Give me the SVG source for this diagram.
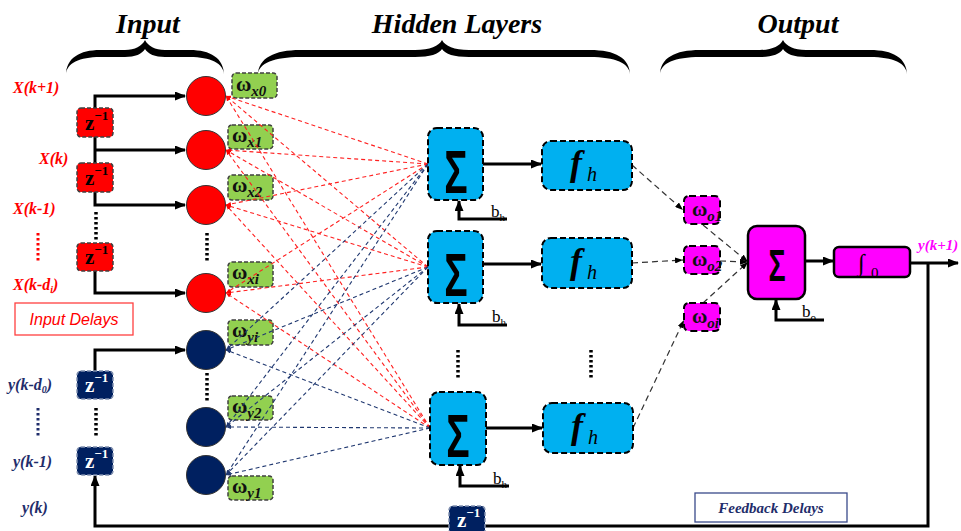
<svg xmlns="http://www.w3.org/2000/svg" width="961" height="531" viewBox="0 0 961 531">
<defs>
<marker id="ah" markerWidth="11" markerHeight="9" refX="10" refY="4.5" orient="auto" markerUnits="userSpaceOnUse"><path d="M0,0 L11,4.5 L0,9 Z" fill="#000"/></marker>
<marker id="ahs" markerWidth="8" markerHeight="6" refX="8" refY="3" orient="auto" markerUnits="userSpaceOnUse"><path d="M0,0 L8,3 L0,6 Z" fill="#000"/></marker>
<marker id="ahr" markerWidth="5" markerHeight="4" refX="5" refY="2" orient="auto" markerUnits="userSpaceOnUse"><path d="M0,0 L5,2 L0,4 Z" fill="#ff0000"/></marker>
<marker id="ahn" markerWidth="5" markerHeight="4" refX="5" refY="2" orient="auto" markerUnits="userSpaceOnUse"><path d="M0,0 L5,2 L0,4 Z" fill="#203870"/></marker>
</defs>
<style>
.title{font-family:"Liberation Serif",serif;font-weight:bold;font-style:italic;font-size:28px;text-anchor:middle;fill:#000}
.brace{fill:#000}
.conn{stroke:#000;stroke-width:3;fill:none}
.dots{stroke:#000;stroke-width:3.5;stroke-dasharray:2.5,2.5;fill:none}
.rl{stroke:#ff2020;stroke-width:1.1;stroke-dasharray:4,3;fill:none}
.nl{stroke:#203870;stroke-width:1.1;stroke-dasharray:4,3;fill:none}
.ol{stroke:#333;stroke-width:1.2;stroke-dasharray:6,4;fill:none}
.gw{fill:#92d050;stroke:#404040;stroke-width:1.5;stroke-dasharray:4,2}
.wt{font-family:"Liberation Serif",serif;font-weight:bold;font-size:21px;fill:#111}
.ws{font-size:15px;font-style:italic}
.rz{fill:#ff0000;stroke:#404040;stroke-width:1.5;stroke-dasharray:4,2}
.nz{fill:#002060;stroke:#8090b0;stroke-width:1.5;stroke-dasharray:4,2}
.zt{font-family:"Liberation Serif",serif;font-weight:bold;font-size:21px}
.zs{font-size:13px}
.rc{fill:#ff0000;stroke:#333;stroke-width:1}
.nc{fill:#002060;stroke:#333;stroke-width:1}
.hb{fill:#00b0f0;stroke:#000;stroke-width:2;stroke-dasharray:6,3}
.sig{font-family:"Liberation Sans",sans-serif;font-weight:bold;text-anchor:middle;fill:#000}
.ft{font-family:"Liberation Serif",serif;font-style:italic;fill:#000}
.bt{font-family:"Liberation Serif",serif;font-size:17px;fill:#000}
.mw{fill:#ff00ff;stroke:#000;stroke-width:2;stroke-dasharray:7,4}
.ms{fill:#ff00ff;stroke:#000;stroke-width:2.5}
.lx{font-family:"Liberation Serif",serif;font-weight:bold;font-style:italic;font-size:16px;fill:#ff0000}
.ly{font-family:"Liberation Serif",serif;font-weight:bold;font-style:italic;font-size:16px;fill:#1f2d6b}
</style>
<rect width="961" height="531" fill="#fff"/>

<g id="titles">
<text class="title" x="148" y="33">Input</text>
<text class="title" x="457" y="33">Hidden Layers</text>
<text class="title" x="798" y="33">Output</text>
<path class="brace" d="M66,75 C66,58 80,50 100,50 L125,50 C135,50 142,46 145,40 C148,46 155,50 165,50 L190,50 C210,50 224,58 224,75 C224,63 210,57 190,57 L165,57 C155,57 148,54 145,49 C142,54 135,57 125,57 L100,57 C80,57 66,63 66,75 Z"/>
<path class="brace" d="M258,75 C258,58 275,50 300,50 L415,50 C430,50 439,46 442,40 C445,46 454,50 469,50 L590,50 C615,50 630,58 630,75 C630,63 615,57 590,57 L469,57 C454,57 445,54 442,49 C439,54 430,57 415,57 L300,57 C275,57 258,63 258,75 Z"/>
<path class="brace" d="M660,75 C660,58 675,50 700,50 L760,50 C772,50 780,46 783,40 C786,46 794,50 806,50 L870,50 C893,50 907,58 907,75 C907,63 893,57 870,57 L806,57 C794,57 786,54 783,49 C780,54 772,57 760,57 L700,57 C675,57 660,63 660,75 Z"/>
</g>

<g id="labels">
<text class="lx" x="13" y="93">X(k+1)</text>
<text class="lx" x="39" y="164">X(k)</text>
<text class="lx" x="13" y="214">X(k-1)</text>
<path d="M38,233 V261" stroke="#ff0000" stroke-width="3" stroke-dasharray="2.5,2.5"/>
<text class="lx" x="13" y="290">X(k-d<tspan font-size="10" dy="3">i</tspan><tspan dy="-3">)</tspan></text>
<text class="ly" x="8" y="390">y(k-d<tspan font-size="10" dy="3">0</tspan><tspan dy="-3">)</tspan></text>
<path d="M38,408 V438" stroke="#1f2d6b" stroke-width="3" stroke-dasharray="2.5,2.5"/>
<text class="ly" x="13" y="467">y(k-1)</text>
<text class="ly" x="22" y="513">y(k)</text>
<text x="918" y="250" font-family="Liberation Serif,serif" font-weight="bold" font-style="italic" font-size="15" fill="#ff00ff">y(k+1)</text>
</g>

<g id="input-delays-label">
<rect x="15" y="303" width="118" height="32" fill="#fff" stroke="#ff4040" stroke-width="1.3"/>
<text x="74" y="325" font-family="Liberation Sans,sans-serif" font-style="italic" font-size="16" fill="#ff0000" text-anchor="middle">Input Delays</text>
</g>
<g id="feedback-delays-label">
<rect x="695" y="493" width="152" height="29" fill="#fff" stroke="#3a4a8a" stroke-width="1.3"/>
<text x="771" y="513" font-family="Liberation Serif,serif" font-weight="bold" font-style="italic" font-size="15" fill="#1f2d6b" text-anchor="middle">Feedback Delays</text>
</g>

<g id="weights-in">
<g id="wx0"><rect class="gw" x="232" y="73" width="45" height="25" rx="4"/><text class="wt" x="236" y="91">ω<tspan class="ws" dy="5">x0</tspan></text></g>
<g id="wx1"><rect class="gw" x="228" y="125" width="45" height="24" rx="4"/><text class="wt" x="232" y="142">ω<tspan class="ws" dy="5">x1</tspan></text></g>
<g id="wx2"><rect class="gw" x="228" y="175" width="45" height="25" rx="4"/><text class="wt" x="232" y="192">ω<tspan class="ws" dy="5">x2</tspan></text></g>
<g id="wxi"><rect class="gw" x="228" y="262" width="45" height="25" rx="4"/><text class="wt" x="232" y="279">ω<tspan class="ws" dy="5">xi</tspan></text></g>
<g id="wyi"><rect class="gw" x="228" y="320" width="45" height="25" rx="4"/><text class="wt" x="232" y="337">ω<tspan class="ws" dy="5">yi</tspan></text></g>
<g id="wy2"><rect class="gw" x="228" y="396" width="45" height="24" rx="4"/><text class="wt" x="232" y="413">ω<tspan class="ws" dy="5">y2</tspan></text></g>
<g id="wy1"><rect class="gw" x="228" y="476" width="45" height="24" rx="4"/><text class="wt" x="232" y="493">ω<tspan class="ws" dy="5">y1</tspan></text></g>
</g>

<g id="connectors">
<g id="hidden-links">
<path class="rl" d="M428,164 L226,96" marker-end="url(#ahr)"/>
<path class="rl" d="M428,267 L226,96" marker-end="url(#ahr)"/>
<path class="rl" d="M430,428 L226,96" marker-end="url(#ahr)"/>
<path class="rl" d="M428,164 L226,150" marker-end="url(#ahr)"/>
<path class="rl" d="M428,267 L226,150" marker-end="url(#ahr)"/>
<path class="rl" d="M430,428 L226,150" marker-end="url(#ahr)"/>
<path class="rl" d="M428,164 L226,205" marker-end="url(#ahr)"/>
<path class="rl" d="M428,267 L226,205" marker-end="url(#ahr)"/>
<path class="rl" d="M430,428 L226,205" marker-end="url(#ahr)"/>
<path class="rl" d="M428,164 L226,293" marker-end="url(#ahr)"/>
<path class="rl" d="M428,267 L226,293" marker-end="url(#ahr)"/>
<path class="rl" d="M430,428 L226,293" marker-end="url(#ahr)"/>
<path class="nl" d="M428,164 L226,350" marker-end="url(#ahn)"/>
<path class="nl" d="M428,267 L226,350" marker-end="url(#ahn)"/>
<path class="nl" d="M430,428 L226,350" marker-end="url(#ahn)"/>
<path class="nl" d="M428,164 L226,427" marker-end="url(#ahn)"/>
<path class="nl" d="M428,267 L226,427" marker-end="url(#ahn)"/>
<path class="nl" d="M430,428 L226,427" marker-end="url(#ahn)"/>
<path class="nl" d="M428,164 L226,475" marker-end="url(#ahn)"/>
<path class="nl" d="M428,267 L226,475" marker-end="url(#ahn)"/>
<path class="nl" d="M430,428 L226,475" marker-end="url(#ahn)"/>
</g>
<g id="delay-links">
<path class="conn" d="M95,108 V96 H185" marker-end="url(#ah)"/>
<path class="conn" d="M95,137 V163"/>
<path class="conn" d="M95,150 H185" marker-end="url(#ah)"/>
<path class="conn" d="M95,192 V205 H185" marker-end="url(#ah)"/>
<path class="dots" d="M96,212 V240"/>
<path class="conn" d="M95,270 V293 H185" marker-end="url(#ah)"/>
<path class="conn" d="M95,371 V350 H185" marker-end="url(#ah)"/>
<path class="dots" d="M96,408 V438"/>
<path class="conn" d="M910,263 H958" marker-end="url(#ah)"/>
<path class="conn" d="M928,263 V526 H95 V476" marker-end="url(#ah)"/>
</g>
<g id="hidden-arrows">
<path class="conn" d="M483,164 H541" marker-end="url(#ah)"/>
<path class="conn" d="M483,264 H541" marker-end="url(#ah)"/>
<path class="conn" d="M486,428 H542" marker-end="url(#ah)"/>
<path class="conn" d="M507,219 H459 V201" marker-end="url(#ah)"/>
<path class="conn" d="M507,325 H459 V304" marker-end="url(#ah)"/>
<path class="conn" d="M509,486 H460 V466" marker-end="url(#ah)"/>
</g>
<g id="output-links">
<path class="ol" d="M632,165 L683,210" marker-end="url(#ahs)"/>
<path class="ol" d="M632,263 L683,260" marker-end="url(#ahs)"/>
<path class="ol" d="M633,428 L684,320" marker-end="url(#ahs)"/>
<path class="ol" d="M703,225 L748,262" marker-end="url(#ahs)"/>
<path class="ol" d="M720,261 L748,262" marker-end="url(#ahs)"/>
<path class="ol" d="M703,303 L748,262" marker-end="url(#ahs)"/>
<path class="conn" d="M805,261 H833" marker-end="url(#ah)"/>
<path class="conn" d="M824,320 H776 V300" marker-end="url(#ah)"/>
</g>
<g id="dotted">
<path class="dots" d="M207,233 V262"/>
<path class="dots" d="M207,373 V401"/>
<path class="dots" d="M458,350 V378"/>
<path class="dots" d="M591,350 V378"/>
</g>
</g>

<g id="delays">
<g id="z1"><rect class="rz" x="77" y="108" width="36" height="29" rx="4"/><text class="zt" x="85" y="130" fill="#000">z<tspan class="zs" dy="-10">−1</tspan></text></g>
<g id="z2"><rect class="rz" x="77" y="163" width="36" height="29" rx="4"/><text class="zt" x="85" y="185" fill="#000">z<tspan class="zs" dy="-10">−1</tspan></text></g>
<g id="z3"><rect class="rz" x="77" y="243" width="36" height="28" rx="4"/><text class="zt" x="85" y="264" fill="#000">z<tspan class="zs" dy="-10">−1</tspan></text></g>
<g id="zy1"><rect class="nz" x="77" y="371" width="36" height="28" rx="4"/><text class="zt" x="85" y="392" fill="#fff">z<tspan class="zs" dy="-10">−1</tspan></text></g>
<g id="zy2"><rect class="nz" x="77" y="447" width="36" height="28" rx="4"/><text class="zt" x="85" y="468" fill="#fff">z<tspan class="zs" dy="-10">−1</tspan></text></g>
<g id="zfb"><rect class="nz" x="449" y="506" width="36" height="28" rx="4"/><text class="zt" x="457" y="527" fill="#fff">z<tspan class="zs" dy="-10">−1</tspan></text></g>
</g>

<g id="inputs">
<circle id="in-x0" class="rc" cx="206" cy="96" r="19.5"/>
<circle id="in-x1" class="rc" cx="206" cy="150" r="19.5"/>
<circle id="in-x2" class="rc" cx="206" cy="205" r="19.5"/>
<circle id="in-xi" class="rc" cx="206" cy="293" r="19.5"/>
<circle id="in-yi" class="nc" cx="206" cy="350" r="19.5"/>
<circle id="in-y2" class="nc" cx="206" cy="427" r="19.5"/>
<circle id="in-y1" class="nc" cx="206" cy="475" r="19.5"/>
</g>

<g id="hidden">
<g id="sum1"><rect class="hb" x="428" y="128" width="55" height="72" rx="9"/><text class="sig" font-size="41" transform="translate(456,193) scale(0.95,1.5)">Σ</text><text class="bt" x="491" y="217">b<tspan font-size="11" dy="4">h</tspan></text></g>
<g id="sum2"><rect class="hb" x="428" y="231" width="55" height="72" rx="9"/><text class="sig" font-size="41" transform="translate(456,296) scale(0.95,1.5)">Σ</text><text class="bt" x="492" y="322">b<tspan font-size="11" dy="4">h</tspan></text></g>
<g id="sum3"><rect class="hb" x="430" y="392" width="56" height="73" rx="9"/><text class="sig" font-size="41" transform="translate(458,457) scale(0.95,1.5)">Σ</text><text class="bt" x="493" y="484">b<tspan font-size="11" dy="4">h</tspan></text></g>
<g id="fh1"><rect class="hb" x="542" y="141" width="90" height="49" rx="9"/><text class="ft" x="570" y="175" font-size="36" font-weight="bold">f</text><text class="ft" x="587" y="181" font-size="20">h</text></g>
<g id="fh2"><rect class="hb" x="542" y="238" width="90" height="50" rx="9"/><text class="ft" x="570" y="273" font-size="36" font-weight="bold">f</text><text class="ft" x="587" y="279" font-size="20">h</text></g>
<g id="fh3"><rect class="hb" x="543" y="403" width="90" height="50" rx="9"/><text class="ft" x="571" y="438" font-size="36" font-weight="bold">f</text><text class="ft" x="588" y="444" font-size="20">h</text></g>
</g>

<g id="output">
<g id="wo1"><rect class="mw" x="684" y="196" width="36" height="28" rx="5"/><text class="wt" x="692" y="216" font-size="19">ω<tspan class="ws" dy="5" font-size="14">o1</tspan></text></g>
<g id="wo2"><rect class="mw" x="684" y="246" width="36" height="28" rx="5"/><text class="wt" x="692" y="266" font-size="19">ω<tspan class="ws" dy="5" font-size="14">o2</tspan></text></g>
<g id="woi"><rect class="mw" x="684" y="303" width="36" height="28" rx="5"/><text class="wt" x="692" y="323" font-size="19">ω<tspan class="ws" dy="5" font-size="14">oi</tspan></text></g>
<g id="sum-out"><rect class="ms" x="748" y="226" width="57" height="73" rx="9"/><text class="sig" font-size="30" transform="translate(777,281) scale(0.95,1.5)">Σ</text><text class="bt" x="802" y="317">b<tspan font-size="11" dy="4">o</tspan></text></g>
<g id="integrator"><rect class="ms" x="834" y="247" width="76" height="30" rx="5" stroke-width="2"/><text x="858" y="271" font-family="Liberation Serif,serif" font-size="24" fill="#000">∫</text><text x="871" y="278" font-family="Liberation Serif,serif" font-size="15" fill="#000">0</text></g>
</g>
</svg>
